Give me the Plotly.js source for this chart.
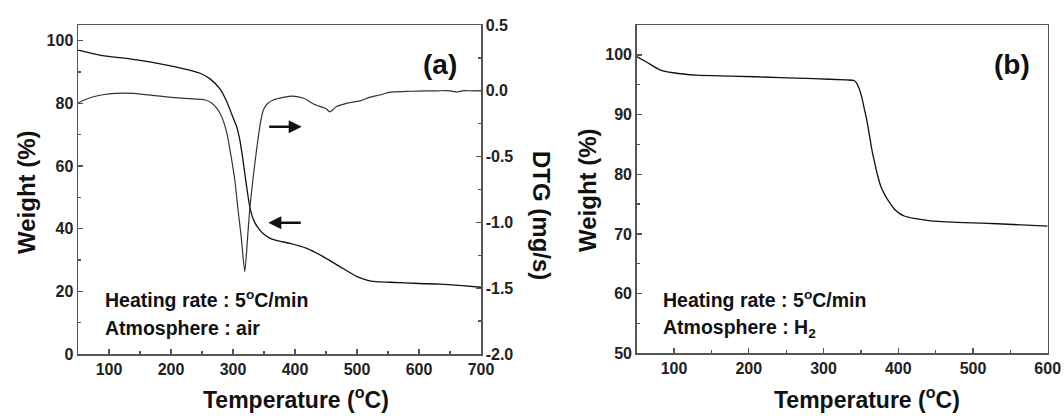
<!DOCTYPE html>
<html>
<head>
<meta charset="utf-8">
<script src="https://cdn.plot.ly/plotly-3.0.1.min.js"></script>
<style>html,body{margin:0;padding:0;background:#fff;}#chart{width:1064px;height:416px;}</style>
</head>
<body>
<div id="chart"></div>
<script>
// ---- Panel (a): TGA in air ----
const tempA_weight = [50, 85, 139, 193, 247, 263, 279, 290, 298, 306, 311, 316, 322, 328, 335, 343, 350, 360, 375, 392, 419, 446, 473, 500, 516, 530, 553, 600, 634, 670, 700];
const weightA      = [97, 95.4, 94, 92.2, 89.6, 87.8, 84.6, 80.5, 76.5, 72.5, 68.3, 62, 53.4, 46, 42, 39.6, 38.2, 36.9, 36, 35.3, 33.7, 31, 27.8, 24.7, 23.6, 23.1, 22.9, 22.5, 22.3, 21.8, 21.3];

const tempA_dtg = [50, 60, 75, 90, 110, 140, 170, 200, 230, 255, 265, 275, 282, 290, 297, 303, 308, 313, 319, 323, 327, 332, 338, 344, 349, 355, 365, 381, 397, 414, 430, 441, 450, 456, 462, 467, 483, 505, 520, 537, 553, 580, 607, 630, 650, 661, 670, 685, 700];
const dtgA      = [-0.095, -0.07, -0.045, -0.03, -0.02, -0.02, -0.035, -0.05, -0.06, -0.07, -0.09, -0.14, -0.2, -0.32, -0.5, -0.68, -0.9, -1.1, -1.375, -1.15, -0.9, -0.68, -0.45, -0.25, -0.146, -0.1, -0.07, -0.05, -0.04, -0.057, -0.1, -0.12, -0.135, -0.16, -0.14, -0.12, -0.095, -0.077, -0.05, -0.032, -0.01, -0.005, 0, 0, 0, -0.01, 0, 0, 0];

// ---- Panel (b): TGA in H2 ----
const tempB   = [50, 63, 81, 99, 130, 175, 242, 287, 330, 341, 344, 347.5, 351, 354, 358, 361, 364, 367.6, 372, 376.6, 381, 386, 391, 396, 402, 408, 421, 443.7, 488, 533, 600];
const weightB = [99.7, 98.8, 97.5, 97, 96.6, 96.45, 96.2, 96, 95.8, 95.7, 95.3, 94.4, 93, 91.3, 89, 86.9, 84.6, 82.4, 80, 78, 76.8, 75.7, 74.8, 74.0, 73.4, 73.0, 72.6, 72.2, 71.9, 71.7, 71.3];

// ---- Tick labels ----
const xTicksA = [100, 200, 300, 400, 500, 600, 700];
const xTicksB = [100, 200, 300, 400, 500, 600];
const yTicksA = [0, 20, 40, 60, 80, 100];
const y2TickVals = [-2, -1.5, -1, -0.5, 0, 0.5];
const y2TickText = ['-2.0', '-1.5', '-1.0', '-0.5', '0.0', '0.5'];
const yTicksB = [50, 60, 70, 80, 90, 100];

const W = 1064, H = 416;
const px = v => v / W;
const py = v => 1 - v / H;

const FAM = 'Liberation Sans, Arial, sans-serif';
const tickFont = {family: FAM, size: 16, color: '#222', weight: 'bold'};
const AX = '#555';

function baseAxis(extra) {
  return Object.assign({
    showline: true, linecolor: AX, linewidth: 1.5,
    ticks: 'inside', ticklen: 5, tickwidth: 1.3, tickcolor: AX,
    showgrid: false, zeroline: false, tickfont: tickFont,
    fixedrange: true
  }, extra);
}

const traces = [
  {x: tempA_weight, y: weightA, xaxis: 'x', yaxis: 'y', mode: 'lines',
   line: {color: '#111', width: 1.3, shape: 'spline', smoothing: 0.6}, hoverinfo: 'skip'},
  {x: tempA_dtg, y: dtgA, xaxis: 'x', yaxis: 'y2', mode: 'lines',
   line: {color: '#333', width: 1.2, shape: 'spline', smoothing: 0.6}, hoverinfo: 'skip'},
  {x: tempB, y: weightB, xaxis: 'x2', yaxis: 'y3', mode: 'lines',
   line: {color: '#111', width: 1.3, shape: 'spline', smoothing: 0.6}, hoverinfo: 'skip'}
];

const annFont = (s) => ({family: FAM, size: s, color: '#111', weight: 'bold'});
function txt(text, x, y, size, opts) {
  return Object.assign({text: text, xref: 'paper', yref: 'paper', x: px(x), y: py(y),
    showarrow: false, font: annFont(size), xanchor: 'center', yanchor: 'middle'}, opts || {});
}
function arrow(hx, hy, dx) {
  return {text: '', xref: 'paper', yref: 'paper', x: px(hx), y: py(hy), ax: dx, ay: 0,
    showarrow: true, arrowhead: 2, arrowsize: 1, arrowwidth: 2.6, arrowcolor: '#111'};
}

const layout = {
  width: W, height: H,
  margin: {l: 0, r: 0, t: 0, b: 0},
  paper_bgcolor: '#fff', plot_bgcolor: '#fff',
  showlegend: false, hovermode: false,
  xaxis: baseAxis({domain: [px(78), px(481)], range: [50, 700], anchor: 'y', mirror: true,
    tickvals: xTicksA, minor: {dtick: 50, tick0: 0, ticks: 'inside', ticklen: 3, tickcolor: AX}}),
  yaxis: baseAxis({domain: [1 - 354 / H, 1 - 25 / H], range: [0, 105], anchor: 'x',
    tickvals: yTicksA, minor: {dtick: 10, tick0: 0, ticks: 'inside', ticklen: 3, tickcolor: AX}}),
  yaxis2: baseAxis({overlaying: 'y', side: 'right', anchor: 'x', range: [-2, 0.5],
    tickvals: y2TickVals, ticktext: y2TickText,
    minor: {dtick: 0.25, tick0: 0, ticks: 'inside', ticklen: 3, tickcolor: AX}}),
  xaxis2: baseAxis({domain: [px(636.7), px(1047.7)], range: [50, 600], anchor: 'y3', mirror: true,
    tickvals: xTicksB, minor: {dtick: 50, tick0: 0, ticks: 'inside', ticklen: 3, tickcolor: AX}}),
  yaxis3: baseAxis({domain: [1 - 353.3 / H, 1 - 25 / H], range: [50, 105], anchor: 'x2', mirror: true,
    tickvals: yTicksB, minor: {dtick: 5, tick0: 0, ticks: 'inside', ticklen: 3, tickcolor: AX}}),
  annotations: [
    txt('(a)', 440, 64, 28),
    txt('(b)', 1012, 64, 28),
    txt('Heating rate : 5<sup>o</sup>C/min', 103, 299, 19.5, {xanchor: 'left'}),
    txt('Atmosphere : air', 103, 328, 19.5, {xanchor: 'left'}),
    txt('Heating rate : 5<sup>o</sup>C/min', 661, 299, 19.5, {xanchor: 'left'}),
    txt('Atmosphere : H<sub>2</sub>', 661, 328, 19.5, {xanchor: 'left'}),
    txt('Weight (%)', 26, 192, 24, {textangle: -90}),
    txt('DTG (mg/s)', 542, 215, 24, {textangle: 90}),
    txt('Temperature (<sup>o</sup>C)', 296, 398, 23),
    txt('Weight (%)', 588, 190, 24, {textangle: -90}),
    txt('Temperature (<sup>o</sup>C)', 867, 398, 23),
    arrow(301.7, 126.7, -34),
    arrow(268.3, 222.7, 34)
  ]
};

Plotly.newPlot('chart', traces, layout, {displayModeBar: false, staticPlot: true});
</script>
</body>
</html>
